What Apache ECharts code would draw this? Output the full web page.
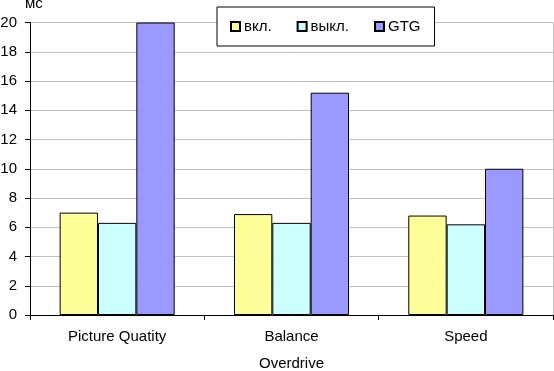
<!DOCTYPE html>
<html>
<head>
<meta charset="utf-8">
<script src="https://cdn.jsdelivr.net/npm/echarts@6/dist/echarts.min.js"></script>
<style>
html,body{margin:0;padding:0;background:#fff;}
#c{width:554px;height:371px;}
</style>
</head>
<body>
<div id="c"></div>
<script>
var categories = ['Picture Quatity', 'Balance', 'Speed'];
var seriesNames = ['вкл.', 'выкл.', 'GTG'];
var valuesOn = [7.0, 6.9, 6.8];
var valuesOff = [6.3, 6.3, 6.2];
var valuesGTG = [20.0, 15.2, 10.0];
var yTicks = {min: 0, max: 20, interval: 2};
var colors = ['#FFFF99', '#CCFFFF', '#9999FF'];

var font = 'Liberation Sans, Arial, sans-serif';
var chart = echarts.init(document.getElementById('c'), null, {renderer: 'canvas'});
function mk(name, data, color) {
  return {
    name: name, type: 'bar', data: data,
    barGap: '0%', barCategoryGap: '34%',
    itemStyle: {color: color, borderColor: '#000', borderWidth: 1},
    emphasis: {disabled: true}
  };
}
chart.setOption({
  animation: false,
  backgroundColor: '#fff',
  textStyle: {fontFamily: font, color: '#000'},
  grid: {left: 30, right: 1, top: 22.5, bottom: 56, containLabel: false, outerBoundsMode: 'none'},
  graphic: [{type: 'text', left: 25, top: -4, style: {text: 'мс', font: '15px ' + font, fill: '#000'}}],
  legend: {
    left: 217, top: 7,
    padding: [12, 14, 12, 13],
    borderColor: '#000', borderWidth: 1, backgroundColor: '#fff',
    itemWidth: 9, itemHeight: 9, itemGap: 25,
    icon: 'rect',
    textStyle: {fontSize: 15, fontFamily: font, color: '#000', padding: [0, 0, 0, -1]},
    data: seriesNames
  },
  xAxis: {
    type: 'category', data: categories,
    name: 'Overdrive', nameLocation: 'middle', nameGap: 41,
    nameTextStyle: {fontSize: 15, fontFamily: font, color: '#000'},
    axisLine: {lineStyle: {color: '#000', width: 1}},
    axisTick: {show: true, length: 5, lineStyle: {color: '#000'}},
    axisLabel: {fontSize: 15, fontFamily: font, color: '#000', margin: 14}
  },
  yAxis: [{
    type: 'value', min: yTicks.min, max: yTicks.max, interval: yTicks.interval,
    axisLine: {show: true, lineStyle: {color: '#000', width: 1}},
    axisTick: {show: true, length: 5, lineStyle: {color: '#000'}},
    axisLabel: {fontSize: 15, fontFamily: font, color: '#000', margin: 13},
    splitLine: {show: true, lineStyle: {color: '#C0C0C0', width: 1}}
  }, {
    type: 'value', position: 'right', min: yTicks.min, max: yTicks.max, interval: yTicks.interval,
    axisLine: {show: true, lineStyle: {color: '#C0C0C0', width: 1}},
    axisTick: {show: false}, axisLabel: {show: false}, splitLine: {show: false}
  }],
  series: [
    mk(seriesNames[0], valuesOn, colors[0]),
    mk(seriesNames[1], valuesOff, colors[1]),
    mk(seriesNames[2], valuesGTG, colors[2])
  ]
});
</script>
</body>
</html>
